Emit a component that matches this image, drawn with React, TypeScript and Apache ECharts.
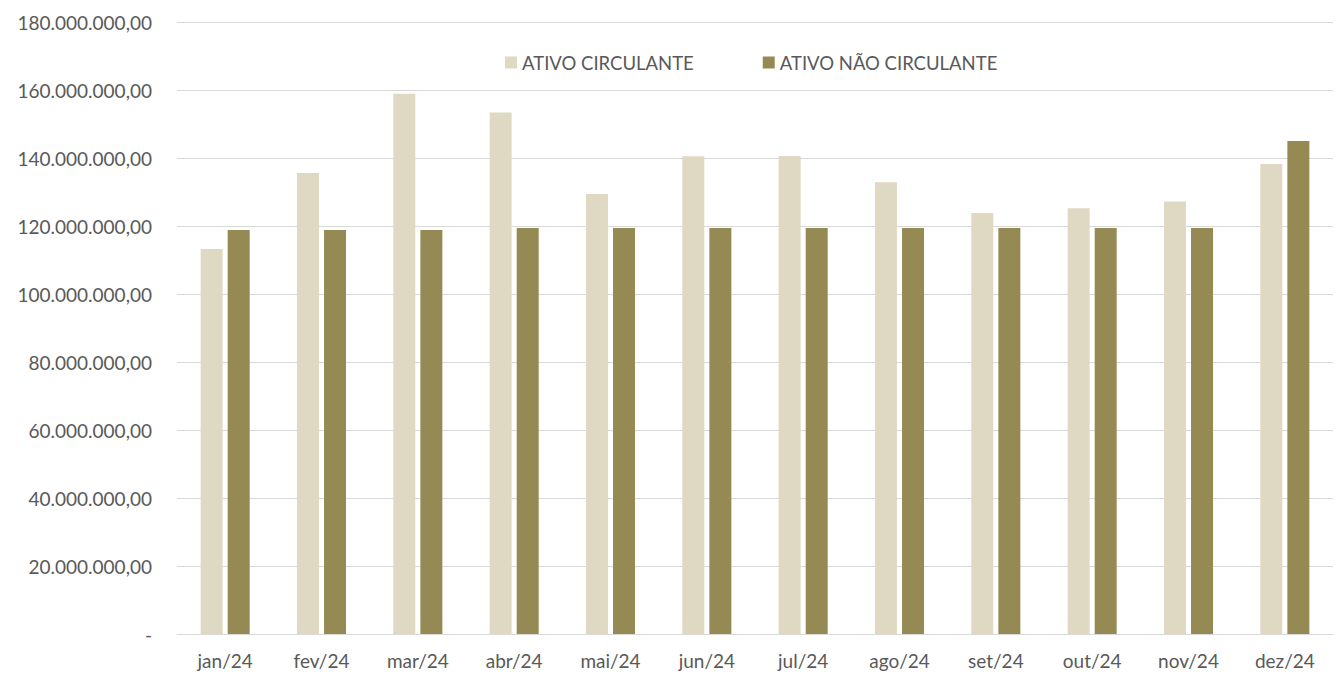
import React, { useEffect, useRef } from "react";
import * as echarts from "echarts";

const categories = ["jan/24", "fev/24", "mar/24", "abr/24", "mai/24", "jun/24", "jul/24", "ago/24", "set/24", "out/24", "nov/24", "dez/24"];
const ativoCirculante = [113.2, 135.6, 158.9, 153.4, 129.4, 140.5, 140.6, 132.9, 123.8, 125.2, 127.2, 138.2].map((v) => v * 1e6);
const ativoNaoCirculante = [118.8, 118.8, 118.8, 119.4, 119.4, 119.4, 119.4, 119.4, 119.4, 119.4, 119.4, 145.0].map((v) => v * 1e6);

const fmt = (v: number) => {
  if (v === 0) return "-";
  const int = Math.round(v).toString().replace(/\B(?=(\d{3})+(?!\d))/g, ".");
  return int + ",00";
};

export default function App() {
  const ref = useRef<HTMLDivElement>(null);
  useEffect(() => {
    const chart = echarts.init(ref.current!, null, { renderer: "svg" });
    const font = "Lato, sans-serif";
    chart.setOption({
      animation: false,
      textStyle: { fontFamily: font },
      legend: {
        top: 48,
        left: 500,
        padding: 5,
        itemWidth: 12,
        itemHeight: 12,
        itemGap: 69,
        icon: "rect",
        textStyle: { color: "#595959", fontSize: 18.5, fontFamily: font },
        data: ["ATIVO CIRCULANTE", "ATIVO NÃO CIRCULANTE"],
      },
      grid: { left: 177, right: 5, top: 22, bottom: 50 },
      xAxis: {
        type: "category",
        data: categories,
        axisLine: { lineStyle: { color: "#d9d9d9" } },
        axisTick: { show: false },
        axisLabel: { color: "#595959", fontSize: 19, margin: 17, fontFamily: font },
      },
      yAxis: {
        type: "value",
        min: 0,
        max: 180000000,
        interval: 20000000,
        axisLine: { show: false },
        axisTick: { show: false },
        splitLine: { lineStyle: { color: "#d9d9d9" } },
        axisLabel: { color: "#595959", fontSize: 19, margin: 25, formatter: fmt, fontFamily: font },
      },
      series: [
        {
          name: "ATIVO CIRCULANTE",
          type: "bar",
          data: ativoCirculante,
          barWidth: 22,
          barGap: "23%",
          itemStyle: { color: "#DFD9C3" },
        },
        {
          name: "ATIVO NÃO CIRCULANTE",
          type: "bar",
          data: ativoNaoCirculante,
          barWidth: 22,
          itemStyle: { color: "#958A53" },
        },
      ],
    });
    return () => chart.dispose();
  }, []);
  return <div ref={ref} style={{ width: 1338, height: 684, position: "absolute", left: 0, top: 0 }} />;
}
